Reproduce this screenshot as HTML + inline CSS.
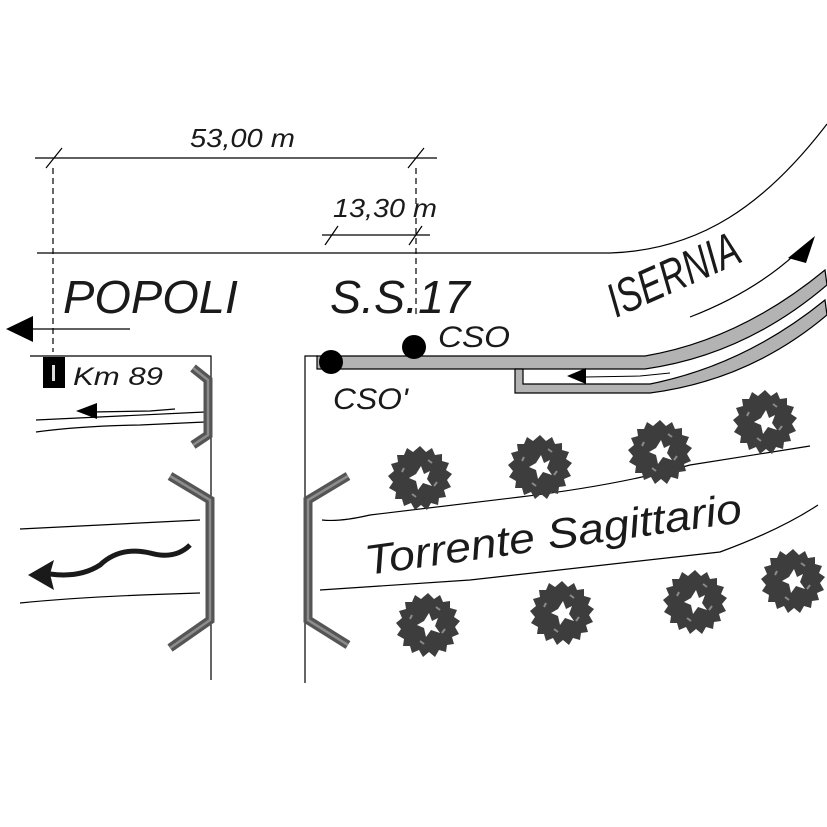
<!DOCTYPE html>
<html><head><style>html,body{margin:0;padding:0;background:#fff}svg{display:block}
text{font-family:"Liberation Sans",sans-serif;font-style:italic;fill:#1a1a1a}</style></head>
<body>
<svg width="827" height="827" viewBox="0 0 827 827" xmlns="http://www.w3.org/2000/svg">
<defs>
<g id="tree">
<polygon fill="#3d3d3d" points="0,-32 6,-26 12,-30 15,-23 22,-24 22,-17 29,-15 26,-8 32,-4 27,2 31,9 24,12 26,19 19,20 18,27 11,25 7,32 1,27 -5,32 -9,25 -16,28 -18,21 -25,21 -24,14 -31,10 -27,4 -32,-2 -26,-7 -29,-14 -22,-16 -23,-23 -16,-23 -13,-30 -7,-26"/>
<polygon fill="#fff" points="1,-12 4,-4 10,-7 7,1 12,8 3,5 -2,12 -4,3 -11,0 -4,-4"/>
<g stroke="#8a8a8a" stroke-width="2"><line x1="-18" y1="-6" x2="-16" y2="-10"/><line x1="14" y1="8" x2="17" y2="4"/><line x1="-8" y1="16" x2="-4" y2="19"/><line x1="8" y1="-18" x2="12" y2="-15"/></g>
</g>
</defs>
<g stroke="#000" stroke-width="1.2" fill="none">
<line x1="35" y1="158" x2="437" y2="158"/>
<line x1="46" y1="168" x2="62" y2="148"/><line x1="408" y1="168" x2="424" y2="148"/>
<line x1="322" y1="235" x2="430" y2="235"/>
<line x1="325" y1="245" x2="338" y2="226"/><line x1="409" y1="245" x2="422" y2="226"/>
<line x1="53" y1="168" x2="53" y2="352" stroke-dasharray="6,4"/>
<line x1="416" y1="168" x2="416" y2="316" stroke-dasharray="6,4"/>
<path d="M37 253 L610 253 C700 250 765 205 827 124"/>
<line x1="25" y1="329" x2="130" y2="329"/>
<path d="M30 356 L211 356 L211 680"/>
<path d="M318 356 L305 356 L305 683"/>
<path d="M36 420 L205 412"/>
<path d="M36 432 Q80 426 140 425 L205 422"/>
<path d="M92 412 L150 411 L175 409"/>
<path d="M20 529 L200 520"/>
<path d="M20 603 Q90 596 200 593"/>
<path d="M322 520 Q340 522 370 515 L520 497 Q620 485 690 465 L810 446"/>
<path d="M320 590 L470 580 L720 552 Q780 530 818 505"/>
<path d="M690 317 Q760 290 805 245"/>
</g>
<polygon points="6,329 33,316 33,342" fill="#000"/>
<polygon points="788,258 815,236 806,263" fill="#000"/>
<polygon points="76,411 97,403 97,419" fill="#000"/>
<path d="M317 356 L645 356 Q740 340 825 270 L827 285 Q745 355 645 369 L317 369 Z" fill="#b3b3b3" stroke="#000" stroke-width="1.2"/>
<path d="M515 369 L515 393 L650 393 Q750 380 827 315 L825 300 Q745 365 650 384 L523 384 L523 369 Z" fill="#b3b3b3" stroke="#000" stroke-width="1.2"/>
<path d="M585 377 L640 376 L670 373" stroke="#000" stroke-width="1" fill="none"/>
<polygon points="567,376 586,368 586,384" fill="#000"/>
<circle cx="331" cy="362" r="12" fill="#000"/>
<circle cx="414" cy="347" r="12" fill="#000"/>
<g fill="none" stroke-linejoin="miter">
<g stroke="#555" stroke-width="9">
<polyline points="193,368 208,380 208,435 193,445"/>
<polyline points="170,476 210,500 210,620 170,648"/>
<polyline points="348,476 308,500 308,620 348,645"/>
</g>
<g stroke="#8c8c8c" stroke-width="2.5">
<polyline points="193,368 208,380 208,435 193,445"/>
<polyline points="170,476 210,500 210,620 170,648"/>
<polyline points="348,476 308,500 308,620 348,645"/>
</g>
</g>
<path d="M190 545 Q175 560 150 553 Q120 546 100 565 Q80 578 50 574" stroke="#1a1a1a" stroke-width="5" fill="none"/>
<polygon points="28,575 54,560 50,574 54,590" fill="#1a1a1a"/>
<rect x="43" y="357" width="22" height="31" fill="#000"/>
<rect x="52" y="365" width="3" height="16" fill="#ddd"/>
<use href="#tree" x="420" y="478"/>
<use href="#tree" x="540" y="467"/>
<use href="#tree" x="660" y="452"/>
<use href="#tree" x="765" y="422"/>
<use href="#tree" x="428" y="625"/>
<use href="#tree" x="562" y="613"/>
<use href="#tree" x="695" y="602"/>
<use href="#tree" x="793" y="581"/>
<text x="190" y="147" font-size="26" textLength="105" lengthAdjust="spacingAndGlyphs">53,00 m</text>
<text x="333" y="217" font-size="26" textLength="104" lengthAdjust="spacingAndGlyphs">13,30 m</text>
<text x="63" y="313" font-size="46" textLength="175" lengthAdjust="spacingAndGlyphs">POPOLI</text>
<text x="330" y="313" font-size="46" textLength="140" lengthAdjust="spacingAndGlyphs">S.S.17</text>
<text x="438" y="347" font-size="30" textLength="72" lengthAdjust="spacingAndGlyphs">CSO</text>
<text x="333" y="409" font-size="30" textLength="75" lengthAdjust="spacingAndGlyphs">CSO'</text>
<text x="73" y="385" font-size="25" textLength="90" lengthAdjust="spacingAndGlyphs">Km 89</text>
<text x="0" y="0" font-size="40" font-style="normal" transform="translate(616,318) rotate(-24) scale(0.85,1.2)" textLength="165" lengthAdjust="spacingAndGlyphs">ISERNIA</text>
<text x="0" y="0" font-size="42" transform="translate(367,575) rotate(-8)" textLength="380" lengthAdjust="spacingAndGlyphs">Torrente Sagittario</text>
</svg>
</body></html>
